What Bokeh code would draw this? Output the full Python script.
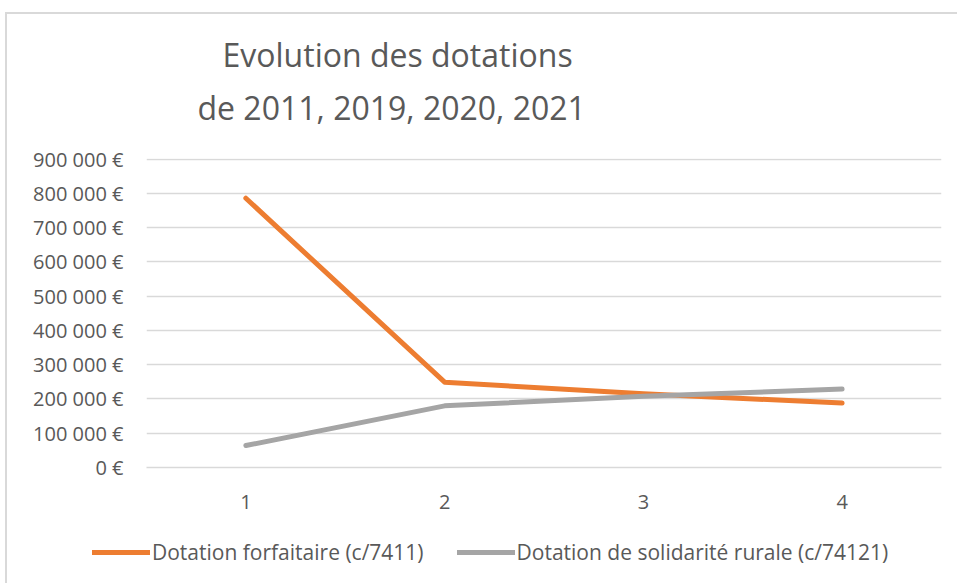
from bokeh.plotting import figure
from bokeh.layouts import column, row
from bokeh.models import Title, Legend, LegendItem, CustomJSTickFormatter, FixedTicker, Range1d, InlineStyleSheet
from bokeh.embed import file_html
from bokeh.resources import INLINE

# Data
x_values = [1, 2, 3, 4]
forfaitaire = [786000, 249000, 215000, 188000]
solidarite = [64000, 180000, 208000, 229000]
series_names = ["Dotation forfaitaire (c/7411)", "Dotation de solidarité rurale (c/74121)"]
series_colors = ["#ED7D31", "#A5A5A5"]
title_lines = ["Evolution des dotations", "de 2011, 2019, 2020, 2021"]
y_ticks = [0, 100000, 200000, 300000, 400000, 500000, 600000, 700000, 800000, 900000]

FONT = "Open Sans"
TXT = "#595959"
GRID = "#D9D9D9"

W = 955
H1 = 522
H2 = 58

p = figure(width=W, height=H1, output_backend="svg", toolbar_location=None,
           x_range=Range1d(0.5, 4.5), y_range=Range1d(0, 902000),
           min_border_left=146, min_border_right=W - 941, min_border_top=158, min_border_bottom=H1 - 467)
p.outline_line_color = None
p.background_fill_color = "white"
p.border_fill_color = "white"

# titles (second line added first so it sits closer to the plot)
t2 = Title(text=title_lines[1], align="left", offset=51, standoff=59,
           text_font=FONT, text_font_size="32px", text_font_style="normal", text_color=TXT,
           text_line_height=1.0)
t1 = Title(text=title_lines[0], align="left", offset=76, standoff=-43,
           text_font=FONT, text_font_size="32px", text_font_style="normal", text_color=TXT,
           text_line_height=1.0)
p.add_layout(t2, "above")
p.add_layout(t1, "above")

r1 = p.line(x_values, forfaitaire, line_color=series_colors[0], line_width=5, line_cap="round", line_join="round")
r2 = p.line(x_values, solidarite, line_color=series_colors[1], line_width=5, line_cap="round", line_join="round")

# axes
p.yaxis.ticker = FixedTicker(ticks=y_ticks)
p.yaxis.formatter = CustomJSTickFormatter(code="""
    return tick.toFixed(0).replace(/\\B(?=(\\d{3})+(?!\\d))/g, " ") + " €";
""")
p.yaxis.axis_line_color = None
p.yaxis.major_tick_line_color = None
p.yaxis.minor_tick_line_color = None
p.yaxis.major_label_text_font = FONT
p.yaxis.major_label_text_font_size = "20px"
p.yaxis.major_label_text_color = TXT
p.yaxis.major_label_standoff = 17

p.xaxis.ticker = FixedTicker(ticks=x_values)
p.xaxis.axis_line_color = GRID
p.xaxis.axis_line_width = 1.5
p.xaxis.major_tick_line_color = None
p.xaxis.minor_tick_line_color = None
p.xaxis.major_label_text_font = FONT
p.xaxis.major_label_text_font_size = "20px"
p.xaxis.major_label_text_color = TXT
p.xaxis.major_label_standoff = 21

p.xgrid.grid_line_color = None
p.ygrid.grid_line_color = GRID
p.ygrid.grid_line_width = 1.5
p.ygrid.ticker = FixedTicker(ticks=y_ticks)

# legend strip below the chart (series repeated here, outside its visible range, only for the legend keys)
q = figure(width=W, height=H2, output_backend="svg", toolbar_location=None,
           x_axis_type=None, y_axis_type=None, x_range=Range1d(0, 1), y_range=Range1d(-1, 0),
           min_border=0, min_border_left=0, min_border_right=0, min_border_top=0, min_border_bottom=0)
q.outline_line_color = None
q.grid.visible = False
q.border_fill_color = "white"
q.background_fill_color = "white"
l1 = q.line(x_values, forfaitaire, line_color=series_colors[0], line_width=5, line_cap="round")
l2 = q.line(x_values, solidarite, line_color=series_colors[1], line_width=5, line_cap="round")
legend = Legend(items=[LegendItem(label=series_names[0], renderers=[l1]),
                       LegendItem(label=series_names[1], renderers=[l2])],
                location=(92, 14), orientation="horizontal",
                label_text_font=FONT, label_text_font_size="21px", label_text_color=TXT,
                glyph_width=58, glyph_height=20, label_standoff=2, spacing=33,
                padding=0, margin=0, border_line_color=None, background_fill_alpha=0)
q.add_layout(legend, "center")

css = InlineStyleSheet(css="""
:host { position: relative; }
:host::after { content: ""; position: absolute; left: 5px; top: 12px; width: 960px; height: 580px;
  border-left: 2px solid #D9D9D9; border-top: 2px solid #D9D9D9; pointer-events: none; }
""")
layout = column(p, row(q), spacing=0, stylesheets=[css])

open("out.html", "w").write(file_html(layout, INLINE))
